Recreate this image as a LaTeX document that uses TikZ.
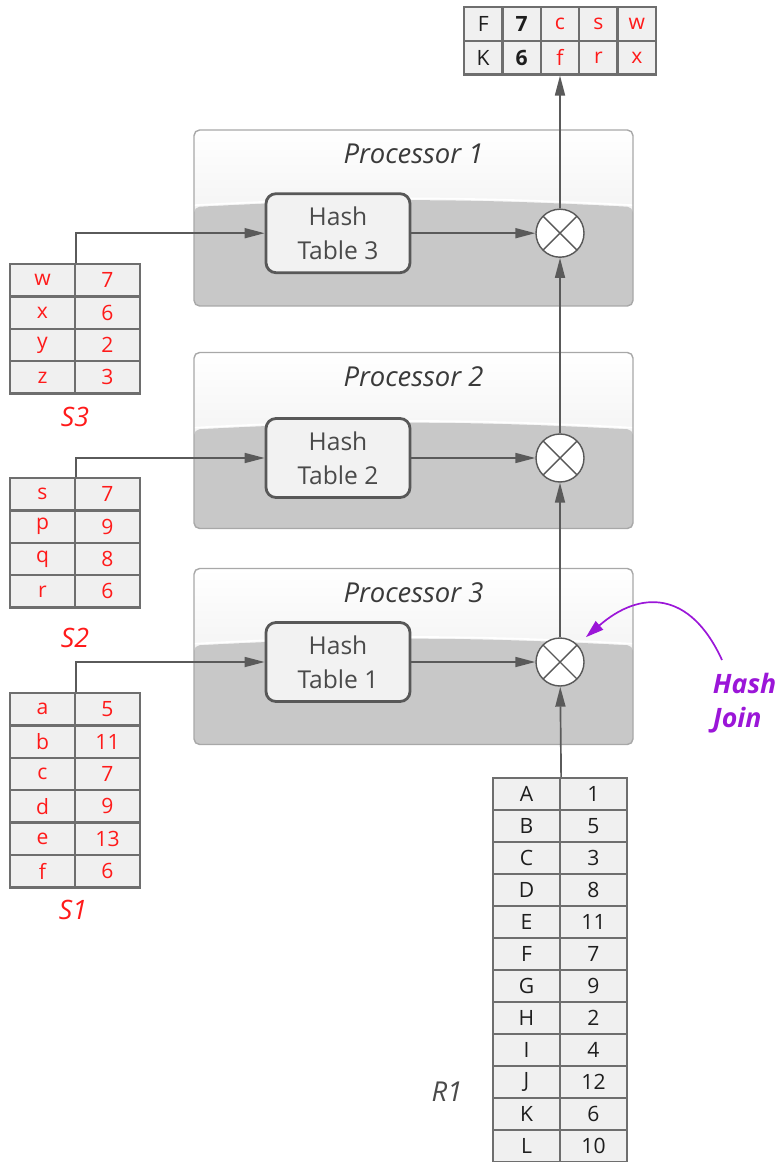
\documentclass[tikz,border=0pt]{standalone}
\usepackage{fontspec}
\setmainfont{Open Sans}
\newfontfamily\handfont{Open Sans}
\usepackage{xcolor}
\usepackage{tikz}
\usetikzlibrary{arrows.meta,calc}
\definecolor{ink}{HTML}{1E1E1E}
\definecolor{tred}{HTML}{FF1A1A}
\definecolor{cellfill}{HTML}{F0F0F0}
\definecolor{cellline}{HTML}{6E6E6E}
\definecolor{wire}{HTML}{5A5A5A}
\definecolor{pline}{HTML}{A8A8A8}
\definecolor{pgray}{HTML}{C8C8C8}
\definecolor{hline}{HTML}{585858}
\definecolor{hfill}{HTML}{F2F2F2}
\definecolor{htext}{HTML}{4A4A4A}
\definecolor{plab}{HTML}{3A3A3A}
\definecolor{jviolet}{HTML}{9B16D8}

\begin{document}
\begin{tikzpicture}[scale=1,every node/.style={font=\fontsize{15}{17}\selectfont},
   cell/.style={draw=cellline,fill=cellfill,line width=1.6pt,minimum width=1.625cm,minimum height=0.81cm,inner sep=0pt},
   proc/.style={draw=pline,line width=1pt,rounded corners=4pt,minimum width=10.975cm,minimum height=4.4cm,top color=white,bottom color=gray!18,
     path picture={
       \fill[pgray] ($(path picture bounding box.west)+(0,0.275)$) to[bend left=3] ($(path picture bounding box.east)+(0,0.275)$)
         -- (path picture bounding box.south east) -- (path picture bounding box.south west) -- cycle;
       \draw[white,line width=1.2pt] ($(path picture bounding box.west)+(0,0.32)$) to[bend left=3] ($(path picture bounding box.east)+(0,0.32)$);}},
   hbox/.style={draw=hline,fill=hfill,line width=2pt,rounded corners=0.25cm,minimum width=3.6cm,minimum height=1.975cm,align=center,text=htext,font=\fontsize{17.5}{24}\selectfont},
   joinpt/.style={circle,draw=hline,fill=white,line width=1pt,minimum size=1.2cm,inner sep=0pt,
     path picture={\draw[hline,line width=1pt] (path picture bounding box.north west) -- (path picture bounding box.south east)
       (path picture bounding box.north east) -- (path picture bounding box.south west);}},
   plabel/.style={text=plab,font=\handfont\itshape\fontsize{19.5}{22}\selectfont},
   slabel/.style={text=tred,font=\handfont\itshape\fontsize{19}{22}\selectfont},
   flow/.style={draw=wire,line width=1.2pt,-{Triangle[length=0.5cm,width=0.25cm]}},
   note/.style={draw=jviolet,line width=1.2pt,-{Triangle[length=0.45cm,width=0.28cm]}}]
\useasboundingbox (0,0) rectangle (19.475,-29.05);
% processor boxes
\node[proc] (p1) at (10.3375,-5.45) {};
\node[proc] (p2) at (10.3375,-11.0125) {};
\node[proc] (p3) at (10.3375,-16.4125) {};
\node[plabel] (pl1) at ($(p1.north)+(0,-0.625)$) {Processor 1};
\node[plabel] (pl2) at ($(p2.north)+(0,-0.625)$) {Processor 2};
\node[plabel] (pl3) at ($(p3.north)+(0,-0.625)$) {Processor 3};
% hash tables and join points
\node[hbox] (h3) at (8.45,-5.83) {Hash\\Table 3};
\node[hbox] (h2) at (8.45,-11.45) {Hash\\Table 2};
\node[hbox] (h1) at (8.45,-16.55) {Hash\\Table 1};
\node[joinpt] (j1) at (14,-5.83) {};
\node[joinpt] (j2) at (14,-11.45) {};
\node[joinpt] (j3) at (14,-16.55) {};
% result rows
\foreach \t/\b/\c [count=\i] in {F/K/ink,\textbf{7}/\textbf{6}/ink,c/f/tred,s/r/tred,w/x/tred}{
  \node[cell,minimum width=0.96cm,minimum height=0.84cm,text=\c] (o1-\i) at ({12.08+0.96*(\i-1)},-0.6) {\t};
  \node[cell,minimum width=0.96cm,minimum height=0.84cm,text=\c] (o2-\i) at ({12.08+0.96*(\i-1)},-1.44) {\b};}
% small relations S3, S2, S1
\foreach \k/\v [count=\i] in {w/7,x/6,y/2,z/3}{
  \node[cell,text=tred] (s3-\i-1) at (1.0625,{-7.005-0.81*(\i-1)}) {\k};
  \node[cell,text=tred] (s3-\i-2) at (2.6875,{-7.005-0.81*(\i-1)}) {\v};}
\foreach \k/\v [count=\i] in {s/7,p/9,q/8,r/6}{
  \node[cell,text=tred] (s2-\i-1) at (1.0625,{-12.355-0.81*(\i-1)}) {\k};
  \node[cell,text=tred] (s2-\i-2) at (2.6875,{-12.355-0.81*(\i-1)}) {\v};}
\foreach \k/\v [count=\i] in {a/5,b/11,c/7,d/9,e/13,f/6}{
  \node[cell,text=tred] (s1-\i-1) at (1.0625,{-17.73-0.81*(\i-1)}) {\k};
  \node[cell,text=tred] (s1-\i-2) at (2.6875,{-17.73-0.81*(\i-1)}) {\v};}
\node[slabel] (sl3) at (1.875,-10.425) {S3};
\node[slabel] (sl2) at (1.875,-15.95) {S2};
\node[slabel] (sl1) at (1.825,-22.75) {S1};
% big relation R1
\foreach \k/\v [count=\i] in {A/1,B/5,C/3,D/8,E/11,F/7,G/9,H/2,I/4,J/12,K/6,L/10}{
  \node[cell,minimum width=1.675cm,minimum height=0.8cm,text=ink] (r1-\i-1) at (13.1625,{-19.85-0.8*(\i-1)}) {\k};
  \node[cell,minimum width=1.675cm,minimum height=0.8cm,text=ink] (r1-\i-2) at (14.8375,{-19.85-0.8*(\i-1)}) {\v};}
\node[plabel,text=htext] (rl) at (11.175,-27.3) {R1};
% connectors
\draw[flow] (s3-1-1.north east) |- (h3.west);
\draw[flow] (s2-1-1.north east) |- (h2.west);
\draw[flow] (s1-1-1.north east) |- (h1.west);
\draw[flow] (h3) -- (j1);
\draw[flow] (h2) -- (j2);
\draw[flow] (h1) -- (j3);
\draw[flow] (r1-1-1.north east) -- (j3);
\draw[flow] (j3) -- (j2);
\draw[flow] (j2) -- (j1);
\draw[flow] (j1) -- (o2-3);
% hash join note
\node[text=jviolet,font=\handfont\bfseries\itshape\fontsize{19}{24}\selectfont,align=left,anchor=west] (hj) at (17.7,-17.575) {Hash\\Join};
\coordinate (hjtail) at (18.05,-16.5);
\draw[note,shorten >=0.28cm] (hjtail) .. controls (17.25,-14.75) and (16.0,-14.75) .. (j3.north east);
\end{tikzpicture}
\end{document}
